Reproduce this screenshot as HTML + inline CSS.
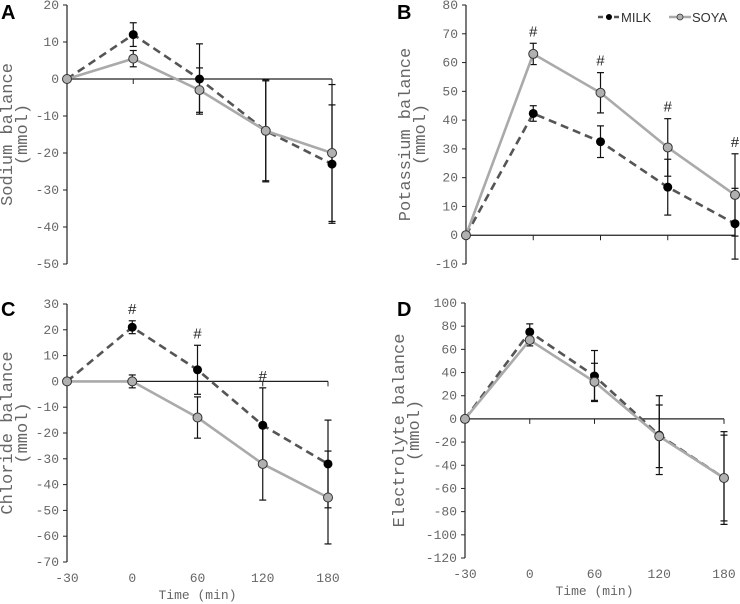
<!DOCTYPE html>
<html><head><meta charset="utf-8"><style>
body{margin:0;background:#fff}
svg{display:block}
.tick{font-family:"Liberation Mono",monospace;font-size:13px;fill:#666}
.ttl{font-family:"Liberation Mono",monospace;font-size:17px;fill:#666}
.let{font-family:"Liberation Sans",sans-serif;font-size:20px;font-weight:bold;fill:#000}
.hash{font-family:"Liberation Mono",monospace;font-size:15px;fill:#222}
.leg{font-family:"Liberation Sans",sans-serif;font-size:13px;fill:#333}
</style></head><body>
<svg id="fig" width="740" height="604"></svg>
<script>
const categories=["-30","0","60","120","180"];
const milkA=[0,12,0,-14,-23], milkAErr=[0,3.2,9.5,13.5,16];
const soyaA=[0,5.5,-3,-14,-20], soyaAErr=[0,2.2,6,13.8,18.5];
const milkB=[0,42.3,32.5,16.7,4], milkBErr=[0,2.7,5.5,9.7,12.3];
const soyaB=[0,63,49.5,30.5,14], soyaBErr=[0,3.7,7,10,14.3];
const milkC=[0,21,4.5,-17,-32], milkCErr=[0,2.5,9.5,14.5,17];
const soyaC=[0,0,-14,-32,-45], soyaCErr=[0,2.5,8,14,18];
const milkD=[0,75,37,-14,-51], milkDErr=[0,7,22,34,40];
const soyaD=[0,68,32,-15,-51], soyaDErr=[0,5,16,27,37];
const ticksA=[20,10,0,-10,-20,-30,-40,-50];
const ticksB=[80,70,60,50,40,30,20,10,0,-10];
const ticksC=[30,20,10,0,-10,-20,-30,-40,-50,-60,-70];
const ticksD=[100,80,60,40,20,0,-20,-40,-60,-80,-100,-120];
const hashB=[1,2,3,4], hashC=[1,2,3];

const NS="http://www.w3.org/2000/svg";
const svg=document.getElementById('fig');
function mk(tag,attrs,parent,text){const e=document.createElementNS(NS,tag);for(const k in attrs)e.setAttribute(k,attrs[k]);if(text!==undefined)e.textContent=text;(parent||svg).appendChild(e);return e;}

function panel(p){
  const g=mk('g',{});
  
  
  const ymin=p.ticks[p.ticks.length-1], ymax=p.ticks[0];
  const Y=v=>p.yb+(v-ymin)/(ymax-ymin)*(p.yt-p.yb);
  const X=i=>p.x0+i*(p.x1-p.x0)/(categories.length-1);
  const ya=mk('line',{x1:p.x0,x2:p.x0,y1:p.yt,y2:p.yb,stroke:'#222','stroke-width':1.2},g);
  
  p.ticks.forEach(t=>{
    mk('line',{x1:p.x0-4,x2:p.x0,y1:Y(t),y2:Y(t),stroke:'#222'},g);
    const tl=mk('text',{x:p.x0-8,y:Y(t)+4,'text-anchor':'end',class:'tick'},g,String(t));
    
  });
  const xa=mk('line',{x1:p.x0,x2:p.x1,y1:Y(0),y2:Y(0),stroke:'#222','stroke-width':1.2},g);
  
  categories.forEach((c,i)=>{
    mk('line',{x1:X(i),x2:X(i),y1:Y(0),y2:Y(0)+5,stroke:'#222'},g);
    if(p.xlabels){const tl=mk('text',{x:X(i),y:p.yb+20,'text-anchor':'middle',class:'tick'},g,c);
      }
  });
  if(p.xlabels){const xt=mk('text',{x:(p.x0+p.x1)/2,y:p.yb+37,'text-anchor':'middle',class:'tick','font-size':'12'},g,'Time (min)');
    }
  const cy=(p.yt+p.yb)/2;
  const yt1=mk('text',{x:0,y:0,'text-anchor':'middle',class:'ttl',transform:`translate(${p.tx},${cy}) rotate(-90)`},g,p.title);
  
  const yt2=mk('text',{x:0,y:0,'text-anchor':'middle',class:'ttl',transform:`translate(${p.tx+15},${cy}) rotate(-90)`},g,'(mmol)');
  
  const lt=mk('text',{x:p.lx,y:p.ly,class:'let'},g,p.id);
  
  [[p.milk,p.milkErr],[p.soya,p.soyaErr]].forEach(([v,e])=>{
    v.forEach((val,i)=>{ if(!e[i])return;
      const eb=mk('g',{},g);
      
      mk('line',{x1:X(i),x2:X(i),y1:Y(val+e[i]),y2:Y(val-e[i]),stroke:'#111','stroke-width':1.2},eb);
      mk('line',{x1:X(i)-3.5,x2:X(i)+3.5,y1:Y(val+e[i]),y2:Y(val+e[i]),stroke:'#111','stroke-width':1.2},eb);
      mk('line',{x1:X(i)-3.5,x2:X(i)+3.5,y1:Y(val-e[i]),y2:Y(val-e[i]),stroke:'#111','stroke-width':1.2},eb);
    });
  });
  const mp=p.milk.map((v,i)=>X(i)+','+Y(v)).join(' ');
  const sp=p.soya.map((v,i)=>X(i)+','+Y(v)).join(' ');
  const ml=mk('polyline',{points:mp,fill:'none',stroke:'#555','stroke-width':2.6,'stroke-dasharray':'8,5'},g);
  
  const sl=mk('polyline',{points:sp,fill:'none',stroke:'#aaa','stroke-width':2.6},g);
  
  p.milk.forEach((v,i)=>{const c=mk('circle',{cx:X(i),cy:Y(v),r:4.5,fill:'#000'},g);
    });
  p.soya.forEach((v,i)=>{const c=mk('circle',{cx:X(i),cy:Y(v),r:4.5,fill:'#b0b0b0',stroke:'#333','stroke-width':1},g);
    });
  (p.hash||[]).forEach(i=>{
    const top=Math.max(p.milk[i]+p.milkErr[i],p.soya[i]+p.soyaErr[i]);
    const h=mk('text',{x:X(i),y:Y(top)-7,'text-anchor':'middle',class:'hash'},g,'#');
    
  });
}
panel({id:'A',x0:67,x1:332,yt:5,yb:264,ticks:ticksA,milk:milkA,milkErr:milkAErr,soya:soyaA,soyaErr:soyaAErr,title:'Sodium balance',tx:12,lx:1,ly:19});
panel({id:'B',x0:466,x1:735,yt:5,yb:264,ticks:ticksB,milk:milkB,milkErr:milkBErr,soya:soyaB,soyaErr:soyaBErr,title:'Potassium balance',tx:410,lx:397,ly:19,hash:hashB});
panel({id:'C',x0:67,x1:328,yt:304,yb:562,ticks:ticksC,milk:milkC,milkErr:milkCErr,soya:soyaC,soyaErr:soyaCErr,title:'Chloride balance',tx:12,lx:1,ly:316,xlabels:true,hash:hashC});
panel({id:'D',x0:465,x1:724,yt:303,yb:558,ticks:ticksD,milk:milkD,milkErr:milkDErr,soya:soyaD,soyaErr:soyaDErr,title:'Electrolyte balance',tx:404,lx:397,ly:316,xlabels:true});
const lg=mk('g',{});

const l1=mk('g',{},lg);

mk('line',{x1:598,x2:620,y1:17,y2:17,stroke:'#555','stroke-width':2.4,'stroke-dasharray':'5,3'},l1);
mk('circle',{cx:609,cy:17,r:3,fill:'#000'},l1);
mk('text',{x:621,y:22,class:'leg'},l1,'MILK');
const l2=mk('g',{},lg);

mk('line',{x1:669,x2:691,y1:17,y2:17,stroke:'#aaa','stroke-width':2.4},l2);
mk('circle',{cx:680,cy:17,r:3,fill:'#b0b0b0',stroke:'#333','stroke-width':0.8},l2);
mk('text',{x:692,y:22,class:'leg'},l2,'SOYA');
</script>
</body></html>
